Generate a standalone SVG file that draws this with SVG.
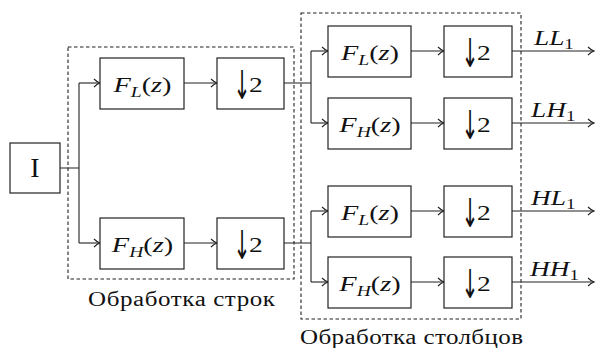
<svg xmlns="http://www.w3.org/2000/svg" width="596" height="348" viewBox="0 0 596 348">
  <style>
    .box { fill: #fff; stroke: #222; stroke-width: 1.2; }
    .group { fill: none; stroke: #222; stroke-width: 1.1; stroke-dasharray: 3.5 2.5; }
    .wire { fill: none; stroke: #222; stroke-width: 1.1; }
    .arrow { fill: none; stroke: #222; stroke-width: 1.1; marker-end: url(#tip); }
    .math { font-size: 21px; text-anchor: middle; }
    .it { font-style: italic; }
    .sub { font-size: 14.5px; }
    .cap { font-size: 20px; text-anchor: middle; }
    .out { font-size: 21px; font-style: italic; text-anchor: start; }
    .two { font-size: 22px; text-anchor: start; }
    .dn { font-family: "DejaVu Sans", sans-serif; font-size: 24px; text-anchor: middle; }
  </style>
  <defs>
    <marker id="tip" viewBox="-8 -5 10 10" refX="0" refY="0" markerWidth="10" markerHeight="10" markerUnits="userSpaceOnUse" orient="auto">
      <path d="M-6,-4 Q-3,-1 0,0 Q-3,1 -6,4" fill="none" stroke="#222" stroke-width="1.1"/>
    </marker>
  </defs>

  <g font-family="'Liberation Serif', 'DejaVu Serif', serif" fill="#111">
  <!-- processing stages (dashed frames) -->
  <g id="rows-stage">
    <rect class="group" x="68" y="47" width="226" height="232"/>
    <text class="cap" transform="translate(181.5,306) scale(1.25,1)" textLength="149.6" lengthAdjust="spacing">Обработка строк</text>
  </g>
  <g id="cols-stage">
    <rect class="group" x="301" y="13" width="220" height="306"/>
    <text class="cap" transform="translate(411.5,344) scale(1.25,1)" textLength="178.4" lengthAdjust="spacing">Обработка столбцов</text>
  </g>

  <!-- connectors -->
  <g id="connectors">
    <path class="wire" d="M60,168 H79 M79,83 V243"/>
    <path class="arrow" d="M79,83 H100"/>
    <path class="arrow" d="M79,243 H100"/>
    <path class="arrow" d="M184,83 H217"/>
    <path class="arrow" d="M184,243 H217"/>
    <path class="wire" d="M284,83 H311 M311,51 V123"/>
    <path class="wire" d="M284,243 H311 M311,211 V282"/>
    <path class="arrow" d="M311,51 H328"/>
    <path class="arrow" d="M311,123 H328"/>
    <path class="arrow" d="M311,211 H328"/>
    <path class="arrow" d="M311,282 H328"/>
    <path class="arrow" d="M411,51 H444"/>
    <path class="arrow" d="M411,123 H444"/>
    <path class="arrow" d="M411,211 H444"/>
    <path class="arrow" d="M411,282 H444"/>
    <path class="arrow" d="M512,51 H594"/>
    <path class="arrow" d="M512,123 H594"/>
    <path class="arrow" d="M512,211 H594"/>
    <path class="arrow" d="M512,282 H594"/>
  </g>

  <!-- input image -->
  <g id="input">
    <rect class="box" x="10" y="143" width="50" height="50"/>
    <text x="35" y="177" font-size="28" text-anchor="middle">I</text>
  </g>

  <!-- row filtering -->
  <g id="row-lowpass">
    <rect class="box" x="100" y="58" width="84" height="51"/>
    <text class="math" transform="translate(142.5,92) scale(1.35,1)"><tspan class="it">F</tspan><tspan class="it sub" dy="5">L</tspan><tspan dy="-5">(</tspan><tspan class="it">z</tspan>)</text>
  </g>
  <g id="row-lowpass-down">
    <rect class="box" x="217" y="58" width="67" height="51"/>
    <text class="dn" transform="translate(242,99) scale(0.85,1.65)">↓</text>
    <text class="two" transform="translate(249,92) scale(1.25,1)">2</text>
  </g>
  <g id="row-highpass">
    <rect class="box" x="100" y="218" width="84" height="51"/>
    <text class="math" transform="translate(142.5,252) scale(1.35,1)"><tspan class="it">F</tspan><tspan class="it sub" dy="5">H</tspan><tspan dy="-5">(</tspan><tspan class="it">z</tspan>)</text>
  </g>
  <g id="row-highpass-down">
    <rect class="box" x="217" y="218" width="67" height="51"/>
    <text class="dn" transform="translate(242,259) scale(0.85,1.65)">↓</text>
    <text class="two" transform="translate(249,252) scale(1.25,1)">2</text>
  </g>

  <!-- column filtering -->
  <g id="ll-filter">
    <rect class="box" x="328" y="26" width="83" height="51"/>
    <text class="math" transform="translate(370,60) scale(1.35,1)"><tspan class="it">F</tspan><tspan class="it sub" dy="5">L</tspan><tspan dy="-5">(</tspan><tspan class="it">z</tspan>)</text>
  </g>
  <g id="ll-down">
    <rect class="box" x="444" y="26" width="68" height="51"/>
    <text class="dn" transform="translate(470,67) scale(0.85,1.65)">↓</text>
    <text class="two" transform="translate(477,60) scale(1.25,1)">2</text>
  </g>
  <g id="lh-filter">
    <rect class="box" x="328" y="98" width="83" height="51"/>
    <text class="math" transform="translate(370,132) scale(1.35,1)"><tspan class="it">F</tspan><tspan class="it sub" dy="5">H</tspan><tspan dy="-5">(</tspan><tspan class="it">z</tspan>)</text>
  </g>
  <g id="lh-down">
    <rect class="box" x="444" y="98" width="68" height="51"/>
    <text class="dn" transform="translate(470,139) scale(0.85,1.65)">↓</text>
    <text class="two" transform="translate(477,132) scale(1.25,1)">2</text>
  </g>
  <g id="hl-filter">
    <rect class="box" x="328" y="186" width="83" height="51"/>
    <text class="math" transform="translate(370,220) scale(1.35,1)"><tspan class="it">F</tspan><tspan class="it sub" dy="5">L</tspan><tspan dy="-5">(</tspan><tspan class="it">z</tspan>)</text>
  </g>
  <g id="hl-down">
    <rect class="box" x="444" y="186" width="68" height="51"/>
    <text class="dn" transform="translate(470,227) scale(0.85,1.65)">↓</text>
    <text class="two" transform="translate(477,220) scale(1.25,1)">2</text>
  </g>
  <g id="hh-filter">
    <rect class="box" x="328" y="257" width="83" height="51"/>
    <text class="math" transform="translate(370,291) scale(1.35,1)"><tspan class="it">F</tspan><tspan class="it sub" dy="5">H</tspan><tspan dy="-5">(</tspan><tspan class="it">z</tspan>)</text>
  </g>
  <g id="hh-down">
    <rect class="box" x="444" y="257" width="68" height="51"/>
    <text class="dn" transform="translate(470,298) scale(0.85,1.65)">↓</text>
    <text class="two" transform="translate(477,291) scale(1.25,1)">2</text>
  </g>

  <!-- subband outputs -->
  <g id="outputs">
    <text class="out" transform="translate(534,45) scale(1.3,1)">LL<tspan class="sub" font-style="normal" dy="4">1</tspan></text>
    <text class="out" transform="translate(531,117) scale(1.3,1)">LH<tspan class="sub" font-style="normal" dy="4">1</tspan></text>
    <text class="out" transform="translate(531,205) scale(1.3,1)">HL<tspan class="sub" font-style="normal" dy="4">1</tspan></text>
    <text class="out" transform="translate(530,276) scale(1.3,1)">HH<tspan class="sub" font-style="normal" dy="4">1</tspan></text>
  </g>
  </g>
</svg>
